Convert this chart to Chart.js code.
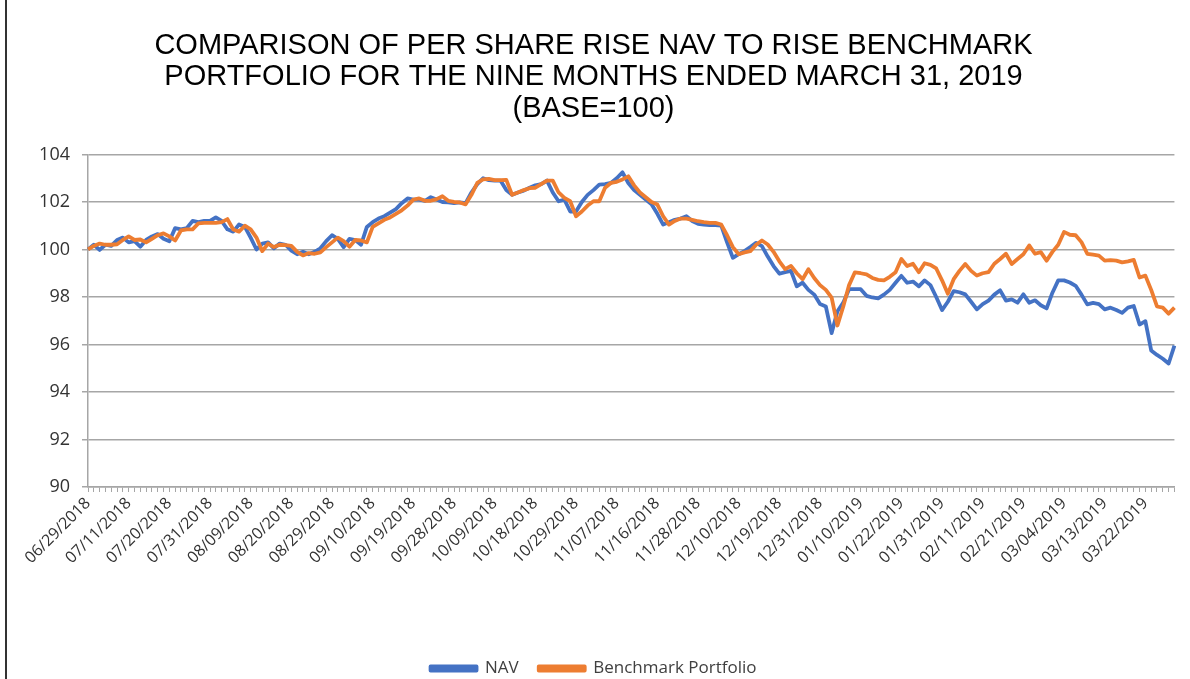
<!DOCTYPE html>
<html>
<head>
<meta charset="utf-8">
<script src="https://cdn.jsdelivr.net/npm/chart.js@4.4.1/dist/chart.umd.min.js"></script>
<style>
  html, body { margin: 0; padding: 0; background: #fff; }
  #wrap { position: relative; width: 1190px; height: 679px; overflow: hidden; }
  #edge { position: absolute; left: 5px; top: 0; width: 2px; height: 679px; background: #333; }
</style>
</head>
<body>
<div id="wrap">
  <canvas id="navChart" width="1190" height="679"></canvas>
  <div id="edge"></div>
</div>
<script>
// trading days, 06/29/2018 -> 03/29/2019
const dates = [
  "06/29/2018",
  "07/02/2018","07/03/2018","07/05/2018","07/06/2018","07/09/2018","07/10/2018","07/11/2018","07/12/2018","07/13/2018","07/16/2018",
  "07/17/2018","07/18/2018","07/19/2018","07/20/2018","07/23/2018","07/24/2018","07/25/2018","07/26/2018","07/27/2018","07/30/2018","07/31/2018",
  "08/01/2018","08/02/2018","08/03/2018","08/06/2018","08/07/2018","08/08/2018","08/09/2018","08/10/2018","08/13/2018","08/14/2018","08/15/2018",
  "08/16/2018","08/17/2018","08/20/2018","08/21/2018","08/22/2018","08/23/2018","08/24/2018","08/27/2018","08/28/2018","08/29/2018","08/30/2018","08/31/2018",
  "09/04/2018","09/05/2018","09/06/2018","09/07/2018","09/10/2018","09/11/2018","09/12/2018","09/13/2018","09/14/2018","09/17/2018",
  "09/18/2018","09/19/2018","09/20/2018","09/21/2018","09/24/2018","09/25/2018","09/26/2018","09/27/2018","09/28/2018",
  "10/01/2018","10/02/2018","10/03/2018","10/04/2018","10/05/2018","10/08/2018","10/09/2018","10/10/2018","10/11/2018","10/12/2018","10/15/2018",
  "10/16/2018","10/17/2018","10/18/2018","10/19/2018","10/22/2018","10/23/2018","10/24/2018","10/25/2018","10/26/2018","10/29/2018","10/30/2018","10/31/2018",
  "11/01/2018","11/02/2018","11/05/2018","11/06/2018","11/07/2018","11/08/2018","11/09/2018","11/12/2018","11/13/2018","11/14/2018","11/15/2018",
  "11/16/2018","11/19/2018","11/20/2018","11/21/2018","11/23/2018","11/26/2018","11/27/2018","11/28/2018","11/29/2018","11/30/2018",
  "12/03/2018","12/04/2018","12/06/2018","12/07/2018","12/10/2018","12/11/2018","12/12/2018","12/13/2018","12/14/2018","12/17/2018",
  "12/18/2018","12/19/2018","12/20/2018","12/21/2018","12/24/2018","12/26/2018","12/27/2018","12/28/2018","12/31/2018",
  "01/02/2019","01/03/2019","01/04/2019","01/07/2019","01/08/2019","01/09/2019","01/10/2019","01/11/2019","01/14/2019","01/15/2019","01/16/2019",
  "01/17/2019","01/18/2019","01/22/2019","01/23/2019","01/24/2019","01/25/2019","01/28/2019","01/29/2019","01/30/2019","01/31/2019",
  "02/01/2019","02/04/2019","02/05/2019","02/06/2019","02/07/2019","02/08/2019","02/11/2019","02/12/2019","02/13/2019","02/14/2019",
  "02/15/2019","02/19/2019","02/20/2019","02/21/2019","02/22/2019","02/25/2019","02/26/2019","02/27/2019","02/28/2019",
  "03/01/2019","03/04/2019","03/05/2019","03/06/2019","03/07/2019","03/08/2019","03/11/2019","03/12/2019","03/13/2019","03/14/2019","03/15/2019",
  "03/18/2019","03/19/2019","03/20/2019","03/21/2019","03/22/2019","03/25/2019","03/26/2019","03/27/2019","03/28/2019","03/29/2019"
];

// dates that get a label on the x axis
const tickLabels = [
  "06/29/2018","07/11/2018","07/20/2018","07/31/2018","08/09/2018","08/20/2018","08/29/2018",
  "09/10/2018","09/19/2018","09/28/2018","10/09/2018","10/18/2018","10/29/2018","11/07/2018",
  "11/16/2018","11/28/2018","12/10/2018","12/19/2018","12/31/2018","01/10/2019","01/22/2019",
  "01/31/2019","02/11/2019","02/21/2019","03/04/2019","03/13/2019","03/22/2019"
];

const nav = [
  100.0, 100.2, 99.98, 100.2, 100.15, 100.4, 100.5, 100.3, 100.35, 100.12,
  100.4, 100.55, 100.65, 100.45, 100.35, 100.9, 100.85, 100.9, 101.2, 101.15,
  101.2, 101.2, 101.35, 101.2, 100.85, 100.75, 101.05, 100.95, 100.5, 100.0,
  100.25, 100.3, 100.05, 100.25, 100.2, 99.95, 99.8, 99.9, 99.8, 99.9,
  100.05, 100.35, 100.6, 100.45, 100.1, 100.45, 100.4, 100.2, 100.95, 101.15,
  101.3, 101.4, 101.55, 101.7, 101.95, 102.15, 102.1, 102.1, 102.05, 102.2,
  102.1, 102.0, 101.98, 101.95, 101.98, 101.95, 102.4, 102.75, 103.0, 102.92,
  102.9, 102.9, 102.5, 102.3, 102.4, 102.48, 102.6, 102.7, 102.75, 102.9,
  102.4, 102.03, 102.1, 101.6, 101.6, 102.0, 102.3, 102.5, 102.73, 102.75,
  102.8, 103.0, 103.25, 102.8, 102.5, 102.3, 102.1, 101.9, 101.5, 101.05,
  101.15, 101.25, 101.3, 101.4, 101.2, 101.08, 101.05, 101.03, 101.03, 101.0,
  100.3, 99.65, 99.8, 99.93, 100.1, 100.28, 100.14, 99.7, 99.3, 98.98,
  99.05, 99.1, 98.45, 98.6, 98.3, 98.1, 97.7, 97.6, 96.48, 97.4,
  97.76, 98.33, 98.33, 98.33, 98.05, 97.98, 97.94, 98.1, 98.3, 98.6,
  98.89, 98.6, 98.65, 98.45, 98.7, 98.5, 98.0, 97.45, 97.8, 98.25,
  98.2, 98.11, 97.8, 97.48, 97.7, 97.85, 98.1, 98.28, 97.85, 97.9,
  97.76, 98.11, 97.76, 97.86, 97.65, 97.52, 98.18, 98.7, 98.7, 98.61,
  98.47, 98.1, 97.69, 97.75, 97.7, 97.48, 97.55, 97.45, 97.33, 97.55,
  97.62, 96.84, 96.98, 95.75, 95.56, 95.4, 95.2, 95.95
];

const benchmark = [
  100.0, 100.15, 100.25, 100.2, 100.2, 100.22, 100.4, 100.55, 100.4, 100.42,
  100.3, 100.45, 100.6, 100.68, 100.55, 100.38, 100.8, 100.85, 100.85, 101.1,
  101.12, 101.12, 101.12, 101.15, 101.28, 100.84, 100.75, 101.0, 100.85, 100.5,
  99.93, 100.25, 100.1, 100.2, 100.18, 100.15, 99.9, 99.75, 99.85, 99.82,
  99.88, 100.1, 100.3, 100.5, 100.35, 100.12, 100.4, 100.38, 100.3, 100.95,
  101.1, 101.25, 101.35, 101.5, 101.65, 101.85, 102.1, 102.15, 102.05, 102.05,
  102.12, 102.24, 102.05, 102.0, 101.98, 101.9, 102.3, 102.8, 102.95, 102.97,
  102.92, 102.92, 102.93, 102.3, 102.4, 102.5, 102.58, 102.6, 102.75, 102.9,
  102.9, 102.4, 102.17, 102.03, 101.4, 101.6, 101.85, 102.03, 102.03, 102.6,
  102.8, 102.85, 102.95, 103.08, 102.7, 102.4, 102.2, 102.0, 101.89, 101.4,
  101.05, 101.2, 101.3, 101.3, 101.25, 101.19, 101.15, 101.12, 101.12, 101.05,
  100.6, 100.1, 99.8, 99.88, 99.93, 100.2, 100.38, 100.21, 99.9, 99.5,
  99.17, 99.31, 99.0, 98.75, 99.17, 98.8, 98.5, 98.3, 97.97, 96.8,
  97.6, 98.5, 99.04, 99.0, 98.95, 98.8, 98.72, 98.7, 98.85, 99.04,
  99.6, 99.3, 99.4, 99.04, 99.42, 99.35, 99.2, 98.7, 98.14, 98.75,
  99.1, 99.39, 99.1, 98.9, 99.0, 99.05, 99.4, 99.6, 99.82, 99.39,
  99.6, 99.8, 100.17, 99.82, 99.89, 99.53, 99.9, 100.2, 100.74, 100.62,
  100.6, 100.31, 99.82, 99.78, 99.74, 99.53, 99.55, 99.53, 99.46, 99.5,
  99.56, 98.82, 98.9, 98.3, 97.6, 97.55, 97.3, 97.55
];

const titleLines = [
  "COMPARISON OF PER SHARE RISE NAV TO RISE BENCHMARK",
  "PORTFOLIO FOR THE NINE MONTHS ENDED MARCH 31, 2019",
  "(BASE=100)"
];

const ctx = document.getElementById("navChart");

const navChart = new Chart(ctx, {
  type: "line",
  data: {
    labels: dates,
    datasets: [
      {
        label: "NAV",
        data: nav,
        borderColor: "#4472C4",
        backgroundColor: "#4472C4",
        borderWidth: 3.8,
        pointRadius: 0,
        tension: 0,
        borderJoinStyle: "round",
        order: 1,
      },
      {
        label: "Benchmark Portfolio",
        data: benchmark,
        borderColor: "#ED7D31",
        backgroundColor: "#ED7D31",
        borderWidth: 3.8,
        pointRadius: 0,
        tension: 0,
        borderJoinStyle: "round",
        order: 0,
      },
    ],
  },
  options: {
    responsive: false,
    animation: false,
    // negative bottom padding pushes the legend row down toward the window edge
    layout: { padding: { left: 0, right: 3, top: 0, bottom: -8 } },
    plugins: {
      title: {
        display: true,
        text: titleLines,
        color: "#000",
        font: { family: "'Liberation Sans', Arial, sans-serif", size: 29, weight: "normal", lineHeight: 1.086 },
        padding: { top: 30, bottom: 30 },
      },
      legend: {
        position: "bottom",
        labels: {
          sort: (a, b) => a.datasetIndex - b.datasetIndex,
          boxWidth: 46,
          boxHeight: 4,
          padding: 20,
          color: "#404040",
          font: { family: "'Open Sans', sans-serif", size: 17 },
        },
      },
      tooltip: { enabled: false },
    },
    scales: {
      x: {
        offset: false,
        grid: { drawOnChartArea: false, drawTicks: true, tickLength: 5, color: "#a6a6a6" },
        border: { color: "#a6a6a6", width: 1.5 },
        ticks: {
          autoSkip: false,
          minRotation: 45,
          maxRotation: 45,
          padding: 2,
          color: "#333",
          font: { family: "'Open Sans', sans-serif", size: 16 },
          callback: function (value, index) {
            const d = dates[index];
            return tickLabels.includes(d) ? d : "";
          },
        },
        afterFit: (scale) => { scale.height = 153; },
      },
      y: {
        min: 90,
        max: 104,
        ticks: {
          stepSize: 2,
          padding: 12,
          color: "#333",
          font: { family: "'Open Sans', sans-serif", size: 18 },
        },
        grid: { color: "#a6a6a6", lineWidth: 1.5, tickLength: 6 },
        border: { color: "#a6a6a6", width: 1.5 },
        afterFit: (scale) => { scale.width = 88; },
      },
    },
  },
});
</script>
</body>
</html>
